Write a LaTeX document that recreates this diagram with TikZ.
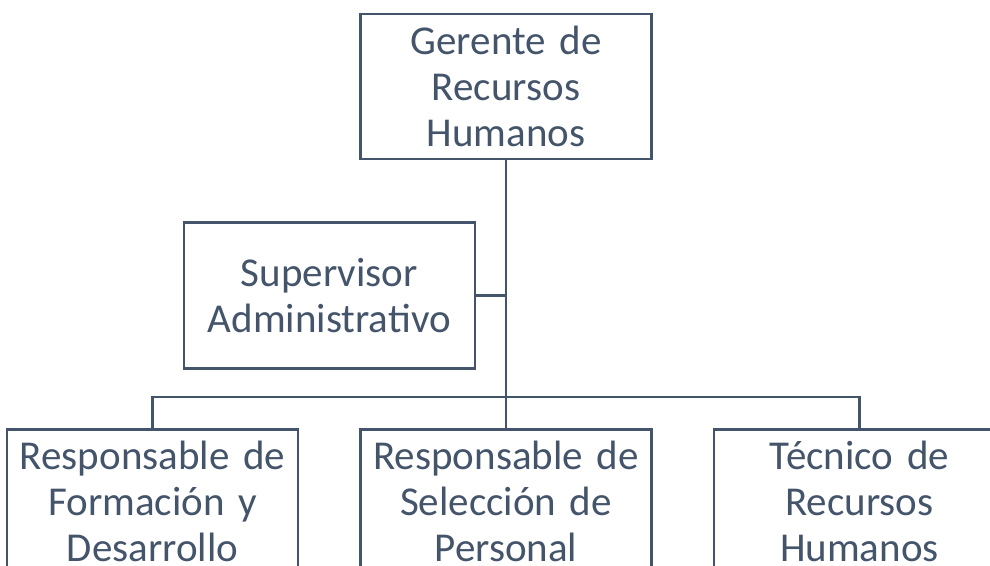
\documentclass[tikz,border=0pt]{standalone}
\usepackage{fontspec}
\setmainfont{Carlito}
\usepackage{tikz}
\usetikzlibrary{positioning}
\definecolor{myslate}{RGB}{68,84,106}
\tikzset{
  orgbox/.style={rectangle, draw=myslate, fill=white, text=myslate,
    text width=285pt, align=center, minimum width=291pt, minimum height=145pt,
    inner sep=2pt, font=\fontsize{41}{46}\selectfont, line width=2.4pt},
  orgline/.style={line width=2.4pt, color=myslate}
}
\begin{document}
\begin{tikzpicture}
  \clip (0,0) rectangle (990pt,-565pt);
  % head of the department
  \node[orgbox] (gerente) at (506pt,-86.5pt) {Gerente de\\Recursos\\Humanos};
  % staff position on the side
  \node[orgbox, minimum height=146pt, below left=61pt and 30pt of gerente.south] (supervisor)
       {Supervisor\\Administrativo};
  % bottom row
  \node[orgbox, below=268pt of gerente] (seleccion) {Responsable de\\Selecci\'on de\\Personal};
  \node[orgbox, left=60pt of seleccion] (formacion) {Responsable de\\Formaci\'on y\\Desarrollo};
  \node[orgbox, right=60pt of seleccion] (tecnico) {T\'ecnico de\\Recursos\\Humanos};
  % connectors
  \draw[orgline] (gerente.south) -- ++(0,-237pt) coordinate (bar);
  \draw[orgline] (supervisor.east) -- (supervisor.east -| gerente.south);
  \draw[orgline] (formacion.north) |- (bar) -| (tecnico.north);
  \draw[orgline] (bar) -- (seleccion.north);
\end{tikzpicture}
\end{document}
